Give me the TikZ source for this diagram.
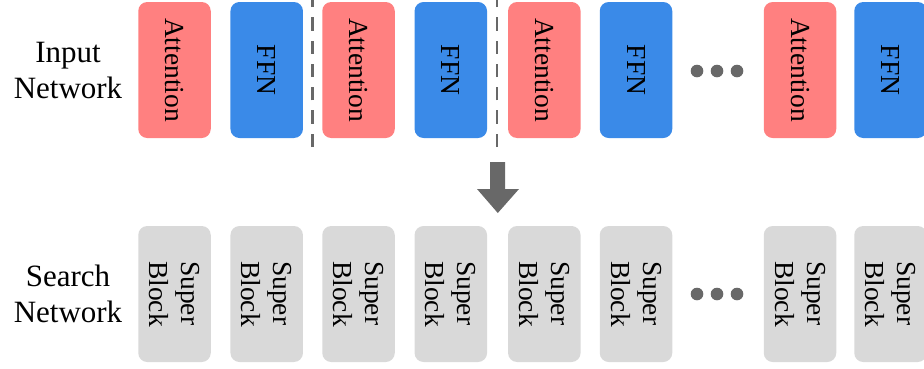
\documentclass[tikz,border=0pt]{standalone}
\usepackage{fontspec}
\setmainfont{Liberation Serif}
\definecolor{attn}{RGB}{255,128,128}
\definecolor{ffn}{RGB}{58,138,232}
\definecolor{sblk}{RGB}{217,217,217}
\definecolor{markgray}{RGB}{104,104,104}
\begin{document}
\begin{tikzpicture}[x=1pt,y=1pt,
  blk/.style={rotate=-90, minimum width=136pt, minimum height=72.5pt,
    rounded corners=9pt, inner sep=0pt, align=left,
    font=\fontsize{27.5}{32}\selectfont},
  attnbox/.style={blk, fill=attn},
  ffnbox/.style={blk, fill=ffn},
  superbox/.style={blk, fill=sblk},
  rowlabel/.style={align=center, font=\fontsize{31}{36}\selectfont},
  dotmark/.style={circle, fill=markgray, inner sep=0pt, minimum size=12.6pt},
  splitline/.style={draw=markgray, line width=2.7pt, dash pattern=on 13.3pt off 10pt}
]
\useasboundingbox (0,0) rectangle (924,-368);
\clip (0,0) rectangle (924,-368);

% row labels
\node[rowlabel] (inlabel) at (68,-70) {Input\\Network};
\node[rowlabel] (searchlabel) at (68,-294) {Search\\Network};

% input network: alternating attention / FFN layers
\node[attnbox] (a1) at (174.5,-70) {Attention};
\node[ffnbox]  (f1) at (266.7,-70) {FFN};
\node[attnbox] (a2) at (358.5,-70) {Attention};
\node[ffnbox]  (f2) at (450.8,-70) {FFN};
\node[attnbox] (a3) at (544.3,-70) {Attention};
\node[ffnbox]  (f3) at (636,-70) {FFN};
\node[attnbox] (a4) at (800,-70) {Attention};
\node[ffnbox]  (f4) at (890.5,-70) {FFN};

% search network: one super block per layer
\foreach \i/\x in {1/174.5, 2/266.7, 3/358.5, 4/450.8, 5/544.3, 6/636, 7/800, 8/890.5}
  \node[superbox] (s\i) at (\x,-294) {Super\\Block};

% ellipses
\foreach \y [count=\r] in {-71,-294}
  \foreach \x [count=\k] in {697,717,737}
    \node[dotmark] (dot\r\k) at (\x,\y) {};

% layer-pair separators
\coordinate (sepA) at (312.6,-147);
\coordinate (sepAtop) at (312.6,0);
\coordinate (sepB) at (497,-147);
\coordinate (sepBtop) at (497,0);
\draw[splitline] (sepA) -- (sepAtop);
\draw[splitline] (sepB) -- (sepBtop);

% block arrow from input to search network
\coordinate (arrowtop) at (497.5,-162);
\fill[markgray] (arrowtop) ++(-7.5,0) -- ++(0,-27) -- ++(-13,0)
  -- (497.8,-213) -- (519,-189) -- (505,-189) -- (505,-162) -- cycle;
\end{tikzpicture}
\end{document}
